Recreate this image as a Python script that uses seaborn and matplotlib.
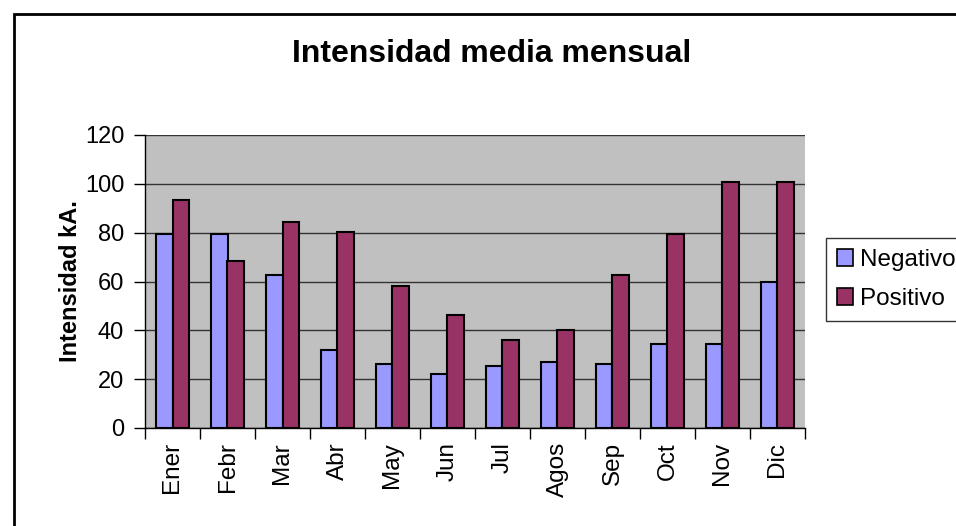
import matplotlib
matplotlib.use("Agg")
import matplotlib.pyplot as plt
import seaborn as sns
import pandas as pd
import numpy as np
from matplotlib.patches import Rectangle
from matplotlib.ticker import FixedLocator

months = ["Ener", "Febr", "Mar", "Abr", "May", "Jun", "Jul", "Agos", "Sep", "Oct", "Nov", "Dic"]
negativo = [79.3, 79.3, 62.5, 32, 26.3, 22, 25.3, 27.1, 26.3, 34.6, 34.6, 60]
positivo = [93.4, 68.2, 84.3, 80.3, 58.3, 46.2, 36.1, 40.2, 62.6, 79.6, 100.7, 100.7]
series = ["Negativo", "Positivo"]
colors = ["#9999FF", "#993366"]
yticks = [0, 20, 40, 60, 80, 100, 120]

df = pd.DataFrame({
    "mes": months * 2,
    "valor": negativo + positivo,
    "serie": [series[0]] * len(months) + [series[1]] * len(months),
})

sns.set_theme(style="white")
plt.rcParams["font.family"] = ["Liberation Sans", "DejaVu Sans"]
plt.rcParams["text.color"] = "black"
plt.rcParams["axes.labelcolor"] = "black"

fig = plt.figure(figsize=(9.56, 5.26), dpi=100)
fig.patch.set_facecolor("white")
ax = fig.add_axes([145 / 956, 1 - 428 / 526, 660 / 956, 293 / 526])
ax.set_facecolor("#C0C0C0")

sns.barplot(data=df, x="mes", y="valor", hue="serie", order=months,
            hue_order=series, palette=colors, width=0.6, edgecolor="black",
            linewidth=1.5, saturation=1, ax=ax, zorder=3)

ax.set_ylim(0, 120)
ax.set_xlim(-0.5, len(months) - 0.5)
ax.set_yticks(yticks)
ax.yaxis.grid(True, color="#333333", linewidth=1, zorder=0)
ax.set_axisbelow(True)
ax.xaxis.grid(False)

for s in ["top", "right"]:
    ax.spines[s].set_visible(False)
for s in ["left", "bottom"]:
    ax.spines[s].set_color("black")
    ax.spines[s].set_linewidth(1)

ax.tick_params(axis="y", which="major", left=True, length=8, width=1,
               color="black", labelsize=17, labelcolor="black", pad=7)
ax.tick_params(axis="x", which="major", bottom=False, length=0,
               labelsize=17.5, labelcolor="black", labelrotation=90, pad=10)
ax.xaxis.set_minor_locator(FixedLocator(np.arange(-0.5, len(months), 1.0)))
ax.tick_params(axis="x", which="minor", bottom=True, length=8, width=1, color="black")

ax.set_xlabel("")
ax.set_ylabel("Intensidad kA.", fontsize=17, fontweight="bold", labelpad=2)

fig.text(492 / 956, 1 - 54 / 526, "Intensidad media mensual", ha="center",
         va="center", fontsize=23, fontweight="bold")

leg = ax.legend(loc="upper left", bbox_to_anchor=(826 / 956, 1 - 238 / 526),
                bbox_transform=fig.transFigure, frameon=True, fontsize=17.5,
                handlelength=0.65, handleheight=0.65, handletextpad=0.3,
                borderpad=0.45, labelspacing=0.7, fancybox=False, borderaxespad=0)
leg.get_frame().set_edgecolor("black")
leg.get_frame().set_linewidth(1)
leg.get_frame().set_facecolor("white")
for h in leg.legend_handles:
    h.set_edgecolor("black")
    h.set_linewidth(1.2)

fig.patches.append(Rectangle((14 / 956, -0.05), 1.1, 1 - 14 / 526 + 0.05,
                             transform=fig.transFigure, fill=False,
                             edgecolor="black", linewidth=2))

fig.savefig("out.png", dpi=100, facecolor="white")
